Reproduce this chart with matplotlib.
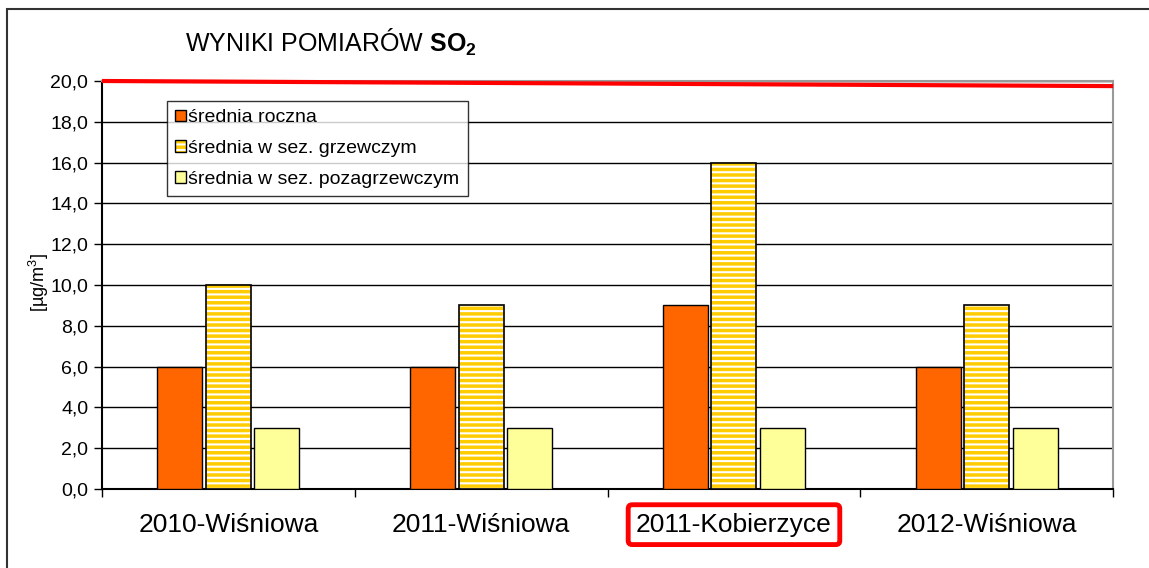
import numpy as np
import matplotlib
matplotlib.use("Agg")
import matplotlib.pyplot as plt
from matplotlib.patches import Patch, Rectangle

plt.rcParams["font.family"] = ["Liberation Sans", "DejaVu Sans"]
plt.rcParams["mathtext.fontset"] = "custom"
plt.rcParams["mathtext.rm"] = "Liberation Sans"
plt.rcParams["mathtext.bf"] = "Liberation Sans:bold"
plt.rcParams["hatch.linewidth"] = 2.5

# data
categories = ["2010-Wiśniowa", "2011-Wiśniowa", "2011-Kobierzyce", "2012-Wiśniowa"]
annual = [6.0, 6.0, 9.0, 6.0]
heating = [10.0, 9.0, 16.0, 9.0]
non_heating = [3.0, 3.0, 3.0, 3.0]
limit_ends = [20.0, 19.75]
highlight = "2011-Kobierzyce"

fig = plt.figure(figsize=(11.49, 5.68), dpi=100)
ax = fig.add_axes([0.0888, 0.139, 0.88, 0.7184])

x = np.arange(len(categories))
w = 0.178
off = 0.192

ax.bar(x - off, annual, w, color="#FF6600", edgecolor="black", lw=1, zorder=3)
ax.bar(x, heating, w, color="white", edgecolor="#FFCC00", hatch="---", lw=0, zorder=3)
ax.bar(x, heating, w, fill=False, edgecolor="black", lw=1.2, zorder=4)
ax.bar(x + off, non_heating, w, color="#FFFF99", edgecolor="black", lw=1, zorder=3)

ax.plot([-0.5, len(categories) - 0.5], limit_ends, color="red", lw=3, zorder=5,
        solid_capstyle="butt", clip_on=False)

ax.set_xlim(-0.5, len(categories) - 0.5)
ax.set_ylim(0, 20)
ax.set_yticks(np.arange(0, 20.1, 2))
ax.set_yticklabels([f"{v:.1f}".replace(".", ",") for v in np.arange(0, 20.1, 2)], fontsize=14)
ax.tick_params(axis="y", direction="out", length=6, width=1, pad=4)
ax.yaxis.grid(True, color="black", lw=1)
ax.set_axisbelow(True)

ax.set_xticks(x)
ax.set_xticklabels(categories, fontsize=19)
ax.tick_params(axis="x", length=0, pad=17)
ax.set_xticks(np.arange(len(categories) + 1) - 0.5, minor=True)
ax.tick_params(axis="x", which="minor", length=6, width=1, direction="out")

for lab in ax.get_xticklabels():
    if lab.get_text() == highlight:
        lab.set_bbox(dict(boxstyle="round,pad=0.3,rounding_size=0.15",
                          fc="none", ec="#FF0000", lw=3.5))

for s in ["left", "bottom"]:
    ax.spines[s].set_color("black")
    ax.spines[s].set_linewidth(1.5)
for s in ["top", "right"]:
    ax.spines[s].set_color("#999999")
    ax.spines[s].set_linewidth(1.5)

ax.set_ylabel("[µg/m$^3$]", fontsize=13)
ax.yaxis.set_label_coords(-0.05, 0.505)

fig.text(0.161, 0.925, r"WYNIKI POMIARÓW $\mathbf{SO_2}$", fontsize=18, va="center")

handles = [
    Patch(facecolor="#FF6600", edgecolor="black"),
    (Patch(facecolor="white", edgecolor="#FFCC00", hatch="---", lw=0),
     Patch(fill=False, edgecolor="black")),
    Patch(facecolor="#FFFF99", edgecolor="black"),
]
labels = ["średnia roczna", "średnia w sez. grzewczym", "średnia w sez. pozagrzewczym"]
leg = ax.legend(handles, labels, loc="upper left", bbox_to_anchor=(0.064, 0.952),
                fontsize=14, frameon=True, fancybox=False, handlelength=0.55,
                handleheight=0.55, handletextpad=0.1, labelspacing=0.7,
                borderpad=0.45, borderaxespad=0)
leg.get_frame().set_edgecolor("black")
leg.get_frame().set_linewidth(1)
leg.set_zorder(6)

# outer chart frame
fig.patches.append(Rectangle((0.006, -0.1), 1.2, 1.084, transform=fig.transFigure,
                             fill=False, ec="#333333", lw=1.5))

fig.savefig("out.png", dpi=100)
